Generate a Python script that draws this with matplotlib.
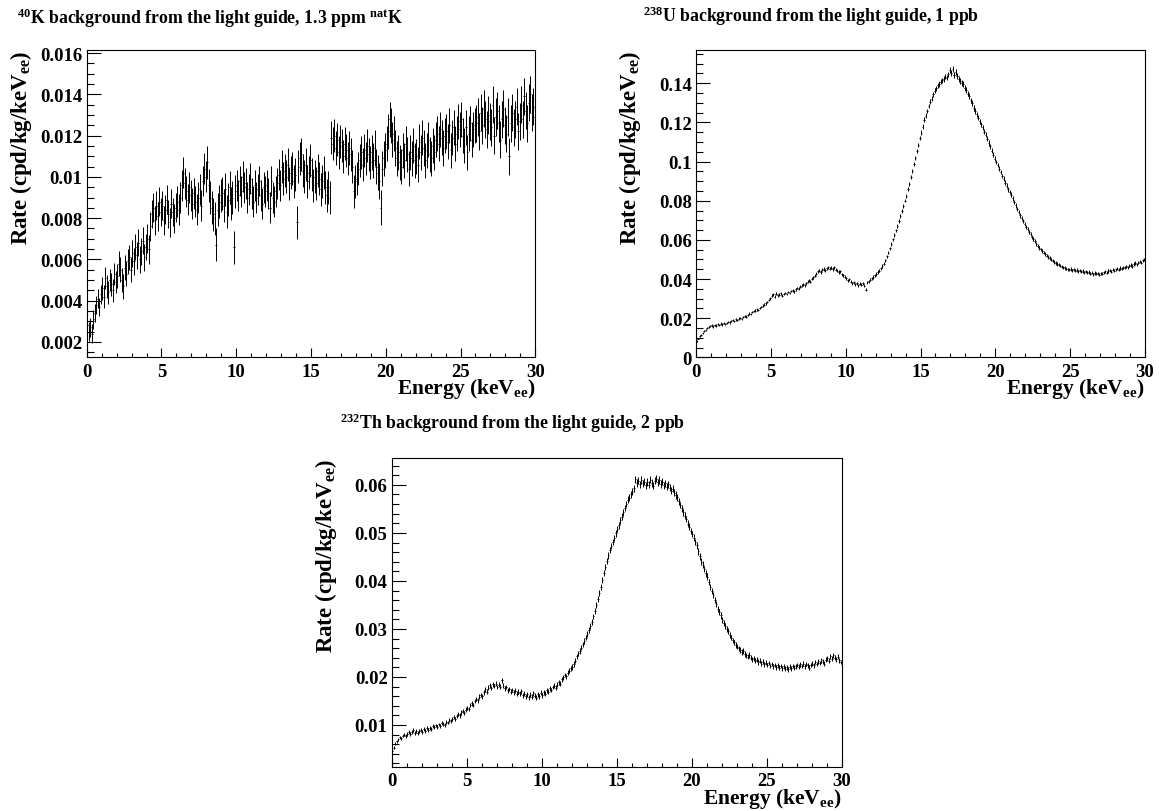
import matplotlib
matplotlib.use("Agg")
import matplotlib.pyplot as plt
import numpy as np
from matplotlib.ticker import MultipleLocator, FuncFormatter

plt.rcParams['font.family'] = ['Liberation Serif', 'DejaVu Serif']
plt.rcParams['font.weight'] = 'bold'
plt.rcParams['axes.labelweight'] = 'bold'
plt.rcParams['mathtext.fontset'] = 'custom'
plt.rcParams['mathtext.rm'] = 'Liberation Serif:bold'
plt.rcParams['mathtext.it'] = 'Liberation Serif:bold'
plt.rcParams['mathtext.bf'] = 'Liberation Serif:bold'
plt.rcParams['mathtext.default'] = 'rm'

# 300 bins of 0.1 keVee, rates in units of 1e-3 cpd/kg/keVee
k40_rate = [
    2.8, 2.5, 2.7, 2.4, 3.1, 3.4, 3.8, 4.1, 3.7, 4.3,
    4.6, 4.2, 5.1, 4.7, 4.4, 5.0, 4.8, 4.5, 5.3, 4.9,
    5.2, 5.8, 5.5, 5.0, 4.7, 5.6, 5.3, 5.9, 6.1, 5.5,
    6.3, 5.9, 6.6, 6.2, 6.8, 6.0, 6.4, 6.9, 6.1, 6.6,
    7.0, 6.5, 7.6, 8.2, 8.5, 7.9, 8.6, 8.1, 8.8, 8.3,
    8.6, 7.9, 8.4, 8.9, 8.2, 7.8, 8.7, 8.3, 8.0, 8.5,
    8.8, 8.4, 9.0, 9.6, 10.2, 9.7, 9.3, 8.9, 9.5, 9.1,
    8.7, 9.2, 8.8, 8.4, 9.0, 9.4, 8.6, 9.8, 10.4, 10.0,
    10.7, 9.6, 9.0, 8.5, 8.2, 8.0, 6.7, 8.4, 8.8, 9.1,
    9.2, 8.6, 9.4, 8.3, 8.9, 9.5, 8.7, 9.0, 6.6, 9.3,
    9.6, 9.1, 9.8, 9.3, 10.0, 9.5, 9.7, 9.0, 9.4, 9.9,
    9.2, 8.8, 9.6, 9.0, 9.4, 9.8, 9.1, 8.7, 9.5, 9.3,
    9.6, 9.2, 8.5, 9.8, 9.0, 8.8, 9.3, 9.7, 10.1, 9.6,
    10.5, 9.9, 10.3, 10.0, 10.6, 9.7, 10.2, 10.4, 9.8, 10.1,
    7.8, 10.5, 10.9, 11.1, 10.3, 10.0, 10.6, 9.8, 10.2, 10.8,
    10.1, 9.6, 10.0, 9.7, 10.3, 9.9, 9.4, 9.8, 10.2, 9.5,
    9.1, 9.5, 9.0, 11.9, 11.6, 12.0, 11.4, 11.8, 11.2, 11.7,
    11.5, 11.0, 11.6, 11.3, 10.9, 11.4, 11.1, 10.5, 9.3, 9.8,
    9.9, 10.4, 10.8, 11.2, 10.6, 11.3, 10.9, 11.5, 11.1, 10.7,
    11.2, 10.8, 11.4, 10.5, 10.2, 9.8, 8.5, 10.4, 10.9, 11.3,
    11.6, 12.2, 12.8, 12.5, 11.8, 12.1, 11.4, 10.9, 11.2, 10.7,
    10.5, 11.3, 10.8, 11.6, 11.1, 10.4, 11.2, 10.9, 11.5, 10.8,
    11.0, 10.6, 11.7, 11.2, 11.9, 11.4, 10.8, 11.3, 11.8, 11.1,
    10.9, 11.5, 11.2, 11.8, 12.1, 11.6, 12.3, 11.9, 11.4, 12.0,
    12.2, 11.7, 12.5, 11.3, 11.9, 12.4, 11.6, 12.1, 12.7, 12.3,
    12.8, 12.0, 11.5, 12.4, 11.2, 12.1, 12.6, 11.8, 12.3, 12.5,
    12.6, 12.9, 12.2, 13.1, 12.5, 13.3, 12.8, 12.3, 13.0, 12.7,
    12.4, 13.5, 12.0, 12.9, 13.2, 12.6, 11.8, 12.8, 13.3, 12.5,
    12.1, 12.9, 11.0, 12.6, 13.1, 12.4, 12.8, 13.4, 12.2, 12.7,
    13.5, 12.8, 13.9, 13.2, 12.6, 13.6, 14.0, 13.1, 13.4, 12.9,
]
# error per 1 keVee slice
k40_err = [0.45, 0.55, 0.6, 0.65, 0.7, 0.7, 0.75, 0.75, 0.8, 0.8,
           0.75, 0.75, 0.75, 0.8, 0.8, 0.8, 0.8, 0.8, 0.8, 0.85,
           0.85, 0.85, 0.85, 0.85, 0.85, 0.85, 0.9, 0.9, 0.9, 0.9]

u238_rate = [
    8.2, 9.6, 10.8, 11.5, 12.6, 13.3, 14.1, 14.9, 15.4, 16.0,
    16.3, 15.8, 16.6, 16.2, 16.9, 16.5, 17.2, 16.8, 17.5, 17.1,
    17.6, 18.2, 17.8, 18.7, 19.0, 18.5, 19.4, 19.1, 19.8, 20.2,
    19.7, 20.6, 21.1, 20.8, 21.7, 22.3, 22.0, 23.0, 23.5, 23.9,
    24.5, 24.1, 25.2, 25.8, 26.4, 26.9, 27.6, 28.3, 29.2, 30.1,
    31.4, 32.2, 31.0, 32.5, 31.6, 31.9, 32.7, 31.5, 32.3, 32.9,
    32.4, 33.3, 32.8, 33.9, 34.2, 33.7, 34.8, 35.4, 35.0, 36.1,
    36.6, 37.2, 36.8, 37.9, 38.5, 39.1, 38.7, 40.2, 40.8, 41.6,
    42.7, 43.9, 44.3, 43.6, 44.8, 45.1, 44.5, 45.4, 46.0, 45.3,
    45.8, 45.1, 46.1, 44.8, 44.2, 43.6, 43.9, 42.5, 41.9, 41.1,
    40.3, 39.4, 39.8, 38.6, 37.9, 38.3, 37.4, 37.8, 36.9, 37.5,
    37.1, 37.9, 36.6, 34.6, 38.4, 38.8, 39.6, 40.4, 41.0, 41.9,
    42.6, 43.5, 44.3, 45.4, 46.6, 47.9, 49.6, 51.5, 53.4, 55.6,
    57.8, 60.2, 62.4, 64.9, 67.1, 69.6, 72.1, 74.8, 77.3, 80.0,
    82.6, 85.8, 88.7, 92.1, 95.3, 98.6, 101.9, 105.4, 108.6, 111.9,
    114.7, 117.8, 121.4, 123.5, 125.9, 128.4, 130.6, 132.1, 134.3, 136.2,
    137.4, 138.9, 139.6, 140.8, 141.5, 142.3, 143.4, 142.9, 144.6, 146.8,
    145.2, 147.1, 144.4, 145.8, 143.6, 142.1, 141.2, 140.3, 139.5, 137.8,
    136.6, 134.7, 133.5, 131.2, 129.8, 127.3, 125.9, 124.1, 122.4, 120.6,
    119.1, 117.6, 115.3, 113.8, 111.7, 109.5, 107.8, 105.6, 103.4, 101.5,
    99.8, 98.2, 96.4, 94.6, 92.7, 91.2, 89.3, 87.6, 85.9, 84.4,
    83.1, 81.2, 79.4, 77.6, 75.8, 74.1, 72.5, 71.0, 69.6, 68.2,
    66.8, 65.5, 64.0, 62.8, 61.6, 60.3, 59.2, 58.0, 56.9, 55.9,
    55.1, 54.3, 53.5, 52.8, 52.0, 51.3, 50.6, 49.9, 49.4, 48.8,
    48.2, 47.7, 47.3, 46.8, 46.3, 45.9, 45.6, 45.2, 45.0, 44.7,
    45.1, 44.5, 44.9, 44.2, 44.6, 43.9, 44.4, 43.7, 44.1, 43.5,
    43.9, 43.2, 43.6, 42.8, 43.3, 42.5, 43.1, 42.6, 42.9, 42.3,
    43.0, 42.6, 43.4, 43.9, 43.2, 44.1, 44.5, 43.8, 44.7, 44.3,
    44.9, 45.3, 44.8, 45.6, 45.2, 46.0, 45.7, 46.4, 46.1, 46.8,
    47.2, 46.7, 47.6, 48.1, 47.5, 48.4, 48.9, 48.3, 49.5, 50.1,
]
u238_err = [0.5, 0.6, 0.6, 0.6, 0.65, 0.7, 0.7, 0.75, 0.8, 0.8,
            0.8, 0.8, 0.85, 0.9, 1.0, 1.2, 1.4, 1.5, 1.4, 1.3,
            1.2, 1.1, 1.0, 0.9, 0.85, 0.8, 0.8, 0.8, 0.8, 0.85]

th232_rate = [
    4.6, 5.3, 6.1, 6.6, 7.0, 7.4, 7.2, 7.8, 8.0, 7.7,
    8.2, 8.6, 8.1, 8.5, 8.9, 8.4, 8.7, 8.3, 8.8, 9.0,
    8.6, 9.1, 8.8, 9.3, 9.0, 9.4, 9.2, 9.7, 9.5, 9.9,
    9.6, 10.1, 9.8, 10.4, 10.2, 10.0, 10.7, 10.5, 11.0, 10.8,
    11.3, 11.7, 11.2, 11.9, 12.3, 12.0, 12.6, 12.9, 12.5, 13.2,
    13.6, 13.3, 14.1, 14.5, 14.2, 15.0, 15.4, 15.1, 15.9, 16.3,
    16.0, 16.8, 17.4, 16.9, 17.8, 18.3, 17.7, 18.5, 18.1, 18.6,
    17.9, 18.4, 18.0, 19.3, 18.2, 17.6, 17.9, 17.2, 17.5, 16.9,
    17.3, 16.8, 17.1, 16.5, 16.9, 16.6, 17.0, 16.2, 16.5, 16.0,
    16.4, 15.8, 16.3, 15.9, 16.6, 16.1, 15.7, 16.4, 16.0, 16.7,
    16.2, 16.8, 16.5, 17.2, 16.9, 17.6, 17.3, 17.9, 18.2, 17.8,
    18.4, 18.9, 18.6, 19.5, 19.9, 20.4, 20.1, 20.9, 21.3, 21.8,
    22.1, 22.7, 23.4, 24.3, 24.9, 25.4, 26.1, 26.8, 27.5, 28.2,
    28.9, 29.8, 30.6, 31.5, 32.6, 33.8, 35.0, 36.3, 37.5, 38.8,
    40.2, 41.6, 42.9, 44.2, 45.3, 46.4, 47.2, 48.1, 49.0, 49.9,
    50.8, 51.6, 52.6, 53.4, 54.3, 55.2, 56.0, 56.9, 57.3, 58.0,
    58.6, 59.3, 61.2, 60.4, 60.9, 60.1, 61.0, 60.3, 60.7, 59.9,
    60.6, 60.0, 61.1, 60.4, 59.8, 60.9, 61.3, 60.5, 61.0, 60.2,
    60.7, 59.9, 60.3, 59.6, 60.1, 59.4, 58.8, 59.2, 58.4, 57.9,
    57.4, 56.6, 55.8, 55.1, 54.3, 53.6, 52.9, 51.9, 51.3, 50.4,
    49.8, 49.0, 48.1, 47.4, 46.2, 45.1, 44.0, 43.4, 42.5, 41.6,
    40.9, 39.8, 38.8, 37.9, 37.0, 36.1, 35.2, 34.2, 33.6, 32.8,
    31.9, 31.3, 30.6, 30.0, 29.5, 28.8, 28.2, 27.6, 27.2, 26.7,
    26.3, 26.0, 25.6, 25.2, 25.4, 24.8, 24.5, 24.2, 24.6, 24.0,
    23.7, 23.9, 23.4, 23.6, 23.1, 23.4, 22.8, 23.2, 22.6, 23.0,
    22.5, 22.9, 22.3, 22.7, 22.2, 22.5, 22.0, 22.4, 21.9, 22.3,
    21.8, 22.2, 21.7, 22.0, 21.6, 22.1, 21.8, 22.3, 21.9, 22.2,
    22.5, 22.1, 22.6, 22.3, 22.8, 22.2, 22.7, 22.4, 21.9, 22.5,
    22.8, 22.4, 23.1, 22.7, 23.3, 22.9, 23.5, 23.2, 22.8, 23.6,
    23.9, 23.4, 24.3, 23.8, 24.5, 24.0, 23.7, 24.2, 23.5, 23.1,
]
th232_err = [0.35, 0.4, 0.4, 0.4, 0.45, 0.45, 0.5, 0.5, 0.5, 0.5,
             0.5, 0.5, 0.55, 0.6, 0.65, 0.7, 0.75, 0.75, 0.75, 0.7,
             0.7, 0.65, 0.6, 0.55, 0.55, 0.5, 0.5, 0.5, 0.5, 0.5]

titles = [r'$^{40}$K background from the light guide, 1.3 ppm $^{nat}$K',
          r'$^{238}$U background from the light guide, 1 ppb',
          r'$^{232}$Th background from the light guide, 2 ppb']

W, H = 1159, 812
fig = plt.figure(figsize=(W / 100, H / 100), dpi=100, facecolor='w')

def box(l, t, r, b):
    return [l / W, 1 - b / H, (r - l) / W, (b - t) / H]

# panel setup: data, errors, frame box (px), y range, major/minor y step, title pos
panels = [
    (k40_rate, k40_err, (86.7, 51, 535.3, 358), (0.00127, 0.01615), 0.002, 0.0005, (17, 18)),
    (u238_rate, u238_err, (696, 51, 1145, 358.3), (0.0, 0.157), 0.02, 0.005, (643, 16)),
    (th232_rate, th232_err, (391.7, 459, 841.7, 767.7), (0.00131, 0.0656), 0.01, 0.002, (340, 423)),
]

nbins = 300
centers = np.arange(nbins) * 0.1 + 0.05
fmt = FuncFormatter(lambda v, p: '%g' % round(v, 6))

for (rate, err, pbox, ylim, ymaj, ymin, tpos), title in zip(panels, titles):
    ax = fig.add_axes(box(*pbox))
    y = np.array(rate) * 1e-3
    yerr = np.repeat(err, 10) * 1e-3
    ax.errorbar(centers, y, yerr=yerr, xerr=0.05, fmt='none', ecolor='k',
                elinewidth=0.7, capsize=0)
    ax.set_xlim(0, 30)
    ax.set_ylim(*ylim)
    ax.xaxis.set_major_locator(MultipleLocator(5))
    ax.xaxis.set_minor_locator(MultipleLocator(1))
    ax.yaxis.set_major_locator(MultipleLocator(ymaj))
    ax.yaxis.set_minor_locator(MultipleLocator(ymin))
    ax.xaxis.set_major_formatter(fmt)
    ax.yaxis.set_major_formatter(fmt)
    ax.tick_params(axis='both', which='both', direction='in', top=False, right=False,
                   width=0.8, labelsize=13.5)
    ax.tick_params(axis='y', which='major', length=10, pad=3)
    ax.tick_params(axis='y', which='minor', length=5)
    ax.tick_params(axis='x', which='major', length=6.5, pad=4)
    ax.tick_params(axis='x', which='minor', length=3.2)
    for s in ax.spines.values():
        s.set_linewidth(0.8)
    wpx = pbox[2] - pbox[0]
    hpx = pbox[3] - pbox[1]
    ax.set_xlabel(r'Energy (keV$_{ee}$)', fontsize=15.5, fontweight='bold', loc='right')
    ax.xaxis.set_label_coords(1.0, -19 / hpx)
    ax.set_ylabel(r'Rate (cpd/kg/keV$_{ee}$)', fontsize=16.5, fontweight='bold', loc='top')
    ax.yaxis.set_label_coords(-53 / wpx, 1.0)
    fig.text(tpos[0] / W, 1 - tpos[1] / H, title, fontsize=12.8,
             fontweight='bold', ha='left', va='center')

fig.savefig('out.png', dpi=100)
